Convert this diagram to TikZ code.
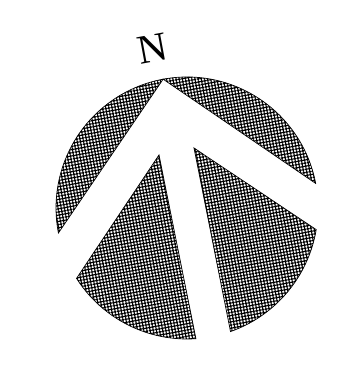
\documentclass[tikz,border=0pt]{standalone}
\usepackage{fontspec}
\setmainfont{Liberation Serif}
\usetikzlibrary{patterns.meta}
\tikzset{
  hatched/.style={draw,line width=0.7pt,
    pattern={Hatch[angle=10.5,distance=3.1pt,line width=1.1pt]}},
}
\begin{document}
\begin{tikzpicture}[x=1pt,y=1pt]
            \useasboundingbox (0,0) rectangle (348,371);
            \def\cx{187}
            \def\cy{163}
            \def\r{131}
            \coordinate (c) at (\cx,\cy);
            \coordinate (ltip) at (159,216);
            \coordinate (rtip) at (194,223);
            % upper pieces, cut by the arrow head
            \draw[hatched] ([shift={(c)}]100.5:\r)
                arc[start angle=100.5,end angle=191,radius=\r] -- cycle;
            \draw[hatched] ([shift={(c)}]10.8:\r)
                arc[start angle=10.8,end angle=100.5,radius=\r] -- cycle;
            % lower pieces, beside the shaft
            \draw[hatched] (ltip) -- ([shift={(c)}]212.5:\r)
                arc[start angle=212.5,end angle=273.9,radius=\r] -- cycle;
            \draw[hatched] (rtip) -- ([shift={(c)}]289.4:\r)
                arc[start angle=289.4,end angle=350.5,radius=\r] -- cycle;
            \node[rotate=10.5,font=\fontsize{41}{41}\selectfont,inner sep=0pt]
                (north) at (153,322) {N};
            \end{tikzpicture}
\end{document}
